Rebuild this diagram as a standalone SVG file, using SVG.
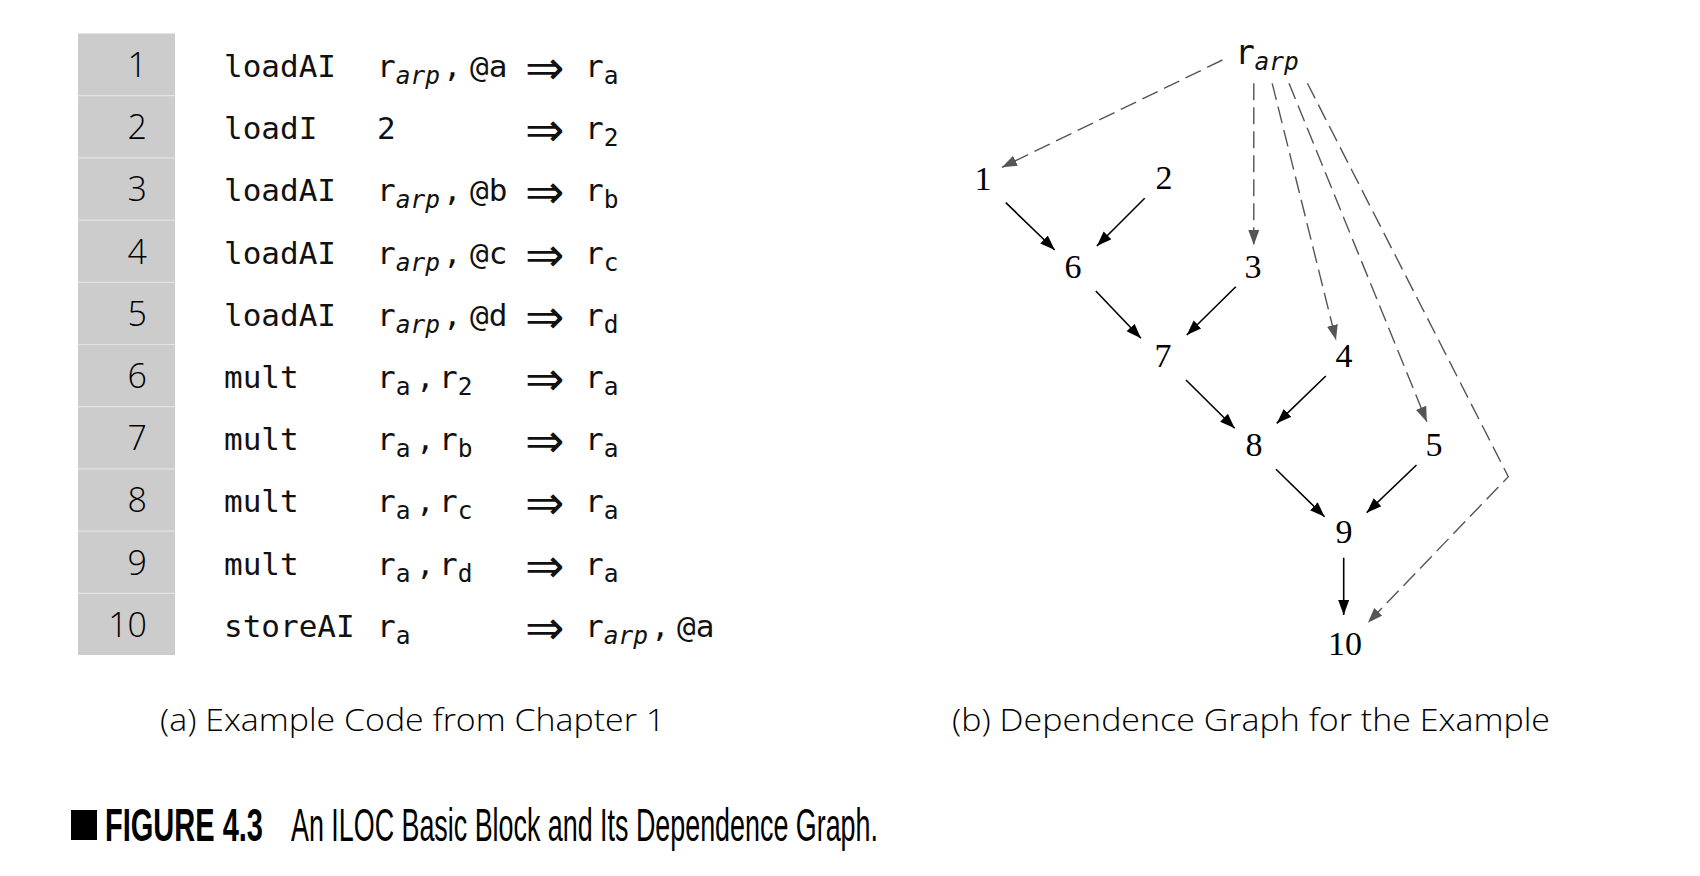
<svg xmlns="http://www.w3.org/2000/svg" width="1700" height="876" viewBox="0 0 1700 876">
<style>
.code{font-family:"DejaVu Sans Mono","Liberation Mono",monospace;font-size:31px;fill:#111}
.sub{font-size:24.5px}
.it{font-style:italic}
.arr{font-family:"DejaVu Sans","Liberation Sans",sans-serif;font-size:47px;fill:#111}
.num{font-family:"Open Sans","Noto Sans",sans-serif;font-weight:300;font-size:34px;fill:#000;text-anchor:end}
.node{font-family:"Liberation Serif","Times New Roman",serif;font-size:34px;fill:#000;text-anchor:middle}
.cap{font-family:"Open Sans","Noto Sans",sans-serif;font-weight:300;font-size:31px;fill:#000}
.fig{font-family:"Liberation Sans",Arial,sans-serif;font-size:46px;fill:#000}
.sep{stroke:#e2e2e2;stroke-width:1.2}
.solid{stroke:#000;stroke-width:1.6;fill:none;marker-end:url(#ah)}
.dash{stroke:#555;stroke-width:1.4;fill:none;stroke-dasharray:17 7;marker-end:url(#ahg)}
</style>
<defs>
<marker id="ah" markerUnits="userSpaceOnUse" markerWidth="17" markerHeight="12" refX="15" refY="5.5" orient="auto"><path d="M0,0 L15,5.5 L0,11 z" fill="#000"/></marker>
<marker id="ahg" markerUnits="userSpaceOnUse" markerWidth="17" markerHeight="12" refX="15" refY="5.5" orient="auto"><path d="M0,0 L15,5.5 L0,11 z" fill="#555"/></marker>
</defs>
<rect width="1700" height="876" fill="#fff"/>

<g id="code-table">
<rect x="78" y="33.5" width="97" height="621.5" fill="#cccccc"/>
<g id="row-separators">
<line class="sep" x1="78" y1="95.7" x2="175" y2="95.7"/>
<line class="sep" x1="78" y1="157.9" x2="175" y2="157.9"/>
<line class="sep" x1="78" y1="220.1" x2="175" y2="220.1"/>
<line class="sep" x1="78" y1="282.3" x2="175" y2="282.3"/>
<line class="sep" x1="78" y1="344.5" x2="175" y2="344.5"/>
<line class="sep" x1="78" y1="406.7" x2="175" y2="406.7"/>
<line class="sep" x1="78" y1="468.9" x2="175" y2="468.9"/>
<line class="sep" x1="78" y1="531.1" x2="175" y2="531.1"/>
<line class="sep" x1="78" y1="593.3" x2="175" y2="593.3"/>
</g>
<g id="row1">
<text class="num" x="147" y="77">1</text>
<text class="code" y="77"><tspan x="224">loadAI</tspan><tspan x="377">r</tspan><tspan class="sub it" x="395.7" y="84">arp</tspan><tspan x="443" y="77">,</tspan><tspan x="470">@a</tspan><tspan x="585">r</tspan><tspan class="sub" x="603.7" y="84">a</tspan></text>
<text class="arr" x="525" y="84">⇒</text>
</g>
<g id="row2">
<text class="num" x="147" y="139.2">2</text>
<text class="code" y="139.2"><tspan x="224">loadI</tspan><tspan x="377">2</tspan><tspan x="585">r</tspan><tspan class="sub" x="603.7" y="146.2">2</tspan></text>
<text class="arr" x="525" y="146.2">⇒</text>
</g>
<g id="row3">
<text class="num" x="147" y="201.4">3</text>
<text class="code" y="201.4"><tspan x="224">loadAI</tspan><tspan x="377">r</tspan><tspan class="sub it" x="395.7" y="208.4">arp</tspan><tspan x="443" y="201.4">,</tspan><tspan x="470">@b</tspan><tspan x="585">r</tspan><tspan class="sub" x="603.7" y="208.4">b</tspan></text>
<text class="arr" x="525" y="208.4">⇒</text>
</g>
<g id="row4">
<text class="num" x="147" y="263.6">4</text>
<text class="code" y="263.6"><tspan x="224">loadAI</tspan><tspan x="377">r</tspan><tspan class="sub it" x="395.7" y="270.6">arp</tspan><tspan x="443" y="263.6">,</tspan><tspan x="470">@c</tspan><tspan x="585">r</tspan><tspan class="sub" x="603.7" y="270.6">c</tspan></text>
<text class="arr" x="525" y="270.6">⇒</text>
</g>
<g id="row5">
<text class="num" x="147" y="325.8">5</text>
<text class="code" y="325.8"><tspan x="224">loadAI</tspan><tspan x="377">r</tspan><tspan class="sub it" x="395.7" y="332.8">arp</tspan><tspan x="443" y="325.8">,</tspan><tspan x="470">@d</tspan><tspan x="585">r</tspan><tspan class="sub" x="603.7" y="332.8">d</tspan></text>
<text class="arr" x="525" y="332.8">⇒</text>
</g>
<g id="row6">
<text class="num" x="147" y="388">6</text>
<text class="code" y="388"><tspan x="377">r</tspan><tspan class="sub" x="395.7" y="395">a</tspan><tspan x="416" y="388">,</tspan><tspan x="439">r</tspan><tspan class="sub" x="457.7" y="395">2</tspan><tspan x="585" y="388">r</tspan><tspan class="sub" x="603.7" y="395">a</tspan><tspan x="224" y="388">mult</tspan></text>
<text class="arr" x="525" y="395">⇒</text>
</g>
<g id="row7">
<text class="num" x="147" y="450.2">7</text>
<text class="code" y="450.2"><tspan x="224">mult</tspan><tspan x="377">r</tspan><tspan class="sub" x="395.7" y="457.2">a</tspan><tspan x="416" y="450.2">,</tspan><tspan x="439">r</tspan><tspan class="sub" x="457.7" y="457.2">b</tspan><tspan x="585" y="450.2">r</tspan><tspan class="sub" x="603.7" y="457.2">a</tspan></text>
<text class="arr" x="525" y="457.2">⇒</text>
</g>
<g id="row8">
<text class="num" x="147" y="512.4">8</text>
<text class="code" y="512.4"><tspan x="224">mult</tspan><tspan x="377">r</tspan><tspan class="sub" x="395.7" y="519.4">a</tspan><tspan x="416" y="512.4">,</tspan><tspan x="439">r</tspan><tspan class="sub" x="457.7" y="519.4">c</tspan><tspan x="585" y="512.4">r</tspan><tspan class="sub" x="603.7" y="519.4">a</tspan></text>
<text class="arr" x="525" y="519.4">⇒</text>
</g>
<g id="row9">
<text class="num" x="147" y="574.6">9</text>
<text class="code" y="574.6"><tspan x="224">mult</tspan><tspan x="377">r</tspan><tspan class="sub" x="395.7" y="581.6">a</tspan><tspan x="416" y="574.6">,</tspan><tspan x="439">r</tspan><tspan class="sub" x="457.7" y="581.6">d</tspan><tspan x="585" y="574.6">r</tspan><tspan class="sub" x="603.7" y="581.6">a</tspan></text>
<text class="arr" x="525" y="581.6">⇒</text>
</g>
<g id="row10">
<text class="num" x="147" y="636.8">10</text>
<text class="code" y="636.8"><tspan x="224">storeAI</tspan><tspan x="377">r</tspan><tspan class="sub" x="395.7" y="643.8">a</tspan><tspan x="585" y="636.8">r</tspan><tspan class="sub it" x="603.7" y="643.8">arp</tspan><tspan x="651" y="636.8">,</tspan><tspan x="677">@a</tspan></text>
<text class="arr" x="525" y="643.8">⇒</text>
</g>
</g>

<g id="connectors">
<line class="solid" x1="1005.8" y1="202.7" x2="1054.8" y2="250"/>
<line class="solid" x1="1144.7" y1="198.3" x2="1096.9" y2="246"/>
<line class="solid" x1="1095.8" y1="291" x2="1140.9" y2="338.3"/>
<line class="solid" x1="1235.8" y1="286.7" x2="1186.8" y2="335"/>
<line class="solid" x1="1186" y1="380" x2="1234.7" y2="428.3"/>
<line class="solid" x1="1325.8" y1="376" x2="1276.8" y2="423.3"/>
<line class="solid" x1="1276" y1="469.3" x2="1324.6" y2="516.7"/>
<line class="solid" x1="1416.5" y1="465" x2="1366.7" y2="512.7"/>
<line class="solid" x1="1343.7" y1="557.7" x2="1343.7" y2="615"/>
<line class="dash" x1="1222.4" y1="60" x2="1002" y2="167.3"/>
<line class="dash" x1="1253.8" y1="83.3" x2="1253.8" y2="245"/>
<line class="dash" x1="1272.2" y1="83.3" x2="1336" y2="340"/>
<line class="dash" x1="1289" y1="83.3" x2="1426.8" y2="421.7"/>
<polyline class="dash" points="1307.4,83.3 1508.3,476.7 1367.9,622.7"/>
</g>

<g id="node-rarp"><text class="code" y="64" style="font-size:33px"><tspan x="1235">r</tspan><tspan class="sub it" x="1254.5" y="70">arp</tspan></text></g>
<g id="node-1"><text class="node" x="983" y="190">1</text></g>
<g id="node-2"><text class="node" x="1164" y="189">2</text></g>
<g id="node-6"><text class="node" x="1073" y="278">6</text></g>
<g id="node-3"><text class="node" x="1253" y="278">3</text></g>
<g id="node-7"><text class="node" x="1163" y="367">7</text></g>
<g id="node-4"><text class="node" x="1344" y="367">4</text></g>
<g id="node-8"><text class="node" x="1254" y="456">8</text></g>
<g id="node-5"><text class="node" x="1434" y="456">5</text></g>
<g id="node-9"><text class="node" x="1344" y="543">9</text></g>
<g id="node-10"><text class="node" x="1345" y="655">10</text></g>

<g id="captions">
<text class="cap" x="160" y="731" textLength="505" lengthAdjust="spacingAndGlyphs">(a) Example Code from Chapter 1</text>
<text class="cap" x="952" y="731" textLength="598" lengthAdjust="spacingAndGlyphs">(b) Dependence Graph for the Example</text>
<rect x="71" y="810" width="26" height="30" fill="#000"/>
<text class="fig" transform="translate(105,841) scale(0.63,1)" font-weight="bold" textLength="250.8" lengthAdjust="spacingAndGlyphs">FIGURE 4.3</text>
<text class="fig" transform="translate(291,841) scale(0.584,1)" textLength="1005" lengthAdjust="spacingAndGlyphs">An ILOC Basic Block and Its Dependence Graph.</text>
</g>
</svg>
